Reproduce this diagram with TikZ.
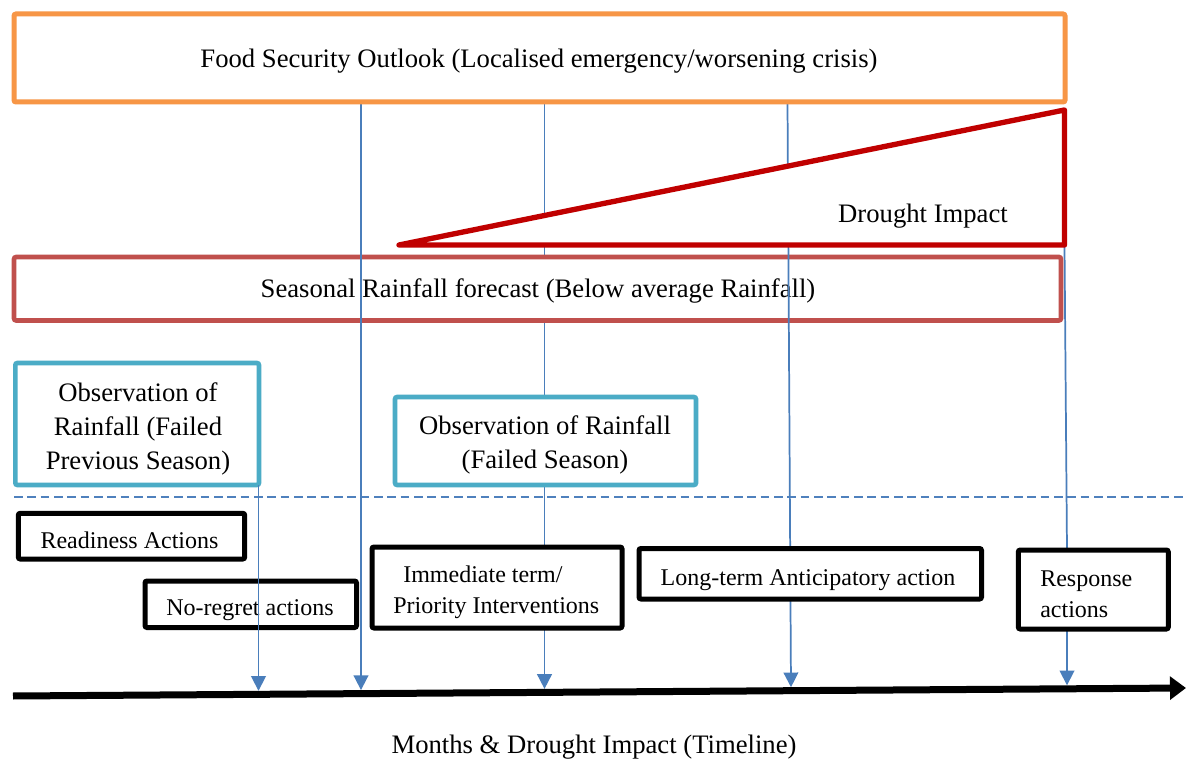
\documentclass[tikz,border=0pt]{standalone}
\usepackage{fontspec}
\setmainfont{Liberation Serif}
\usetikzlibrary{arrows.meta,fit,calc}
\definecolor{orangeO}{HTML}{F79646}
\definecolor{triRed}{HTML}{C00000}
\definecolor{seasRed}{HTML}{C0504D}
\definecolor{obsBlue}{HTML}{4BACC6}
\definecolor{lineBlue}{HTML}{4A7EBB}
\definecolor{dashBlue}{HTML}{4F81BD}
\pgfdeclarelayer{bg}\pgfdeclarelayer{l1}\pgfdeclarelayer{l2}\pgfdeclarelayer{l3}\pgfdeclarelayer{l4}\pgfdeclarelayer{front}
\pgfsetlayers{bg,l1,l2,l3,l4,main,front}
\newcommand\txtL{\fontsize{20}{25.5}\selectfont}
\newcommand\txtS{\fontsize{18}{23.25}\selectfont}
\tikzset{
  frame/.style={draw, fill=white, inner sep=0pt, outer sep=0pt, rounded corners=1.5pt},
  orangebox/.style={frame, draw=orangeO, line width=3.75pt},
  seasbox/.style={frame, draw=seasRed, line width=3.4pt},
  obsbox/.style={frame, draw=obsBlue, line width=3.4pt},
  actbox/.style={frame, draw=black, line width=3.75pt},
  tri/.style={draw=triRed, fill=white, line width=4pt, line join=round},
  lbl/.style={inner sep=0pt, anchor=base, font=\txtL},
  slbl/.style={inner sep=0pt, anchor=base, font=\txtS},
  sleft/.style={inner sep=0pt, anchor=base west, font=\txtS},
  conn/.style={draw=lineBlue, line width=1.3pt},
  conna/.style={conn, -{Triangle[length=11pt,width=11pt]}},
  timeline/.style={draw=black, line width=5.25pt, -{Triangle[length=12pt,width=17pt]}},
  sep/.style={draw=dashBlue, line width=1.4pt, dash pattern=on 6.5pt off 3.5pt},
}
\begin{document}
\begin{tikzpicture}[x=0.75pt, y=-0.75pt]
\useasboundingbox (0,0) rectangle (1186,759);
\begin{pgfonlayer}{bg}
  \fill[white] (0,0) rectangle (1186,759);
\end{pgfonlayer}

% boxes
\node[orangebox, fit={(14,14) (1065,102)}] (top) {};
\node[lbl] (toptxt) at (539,68) {Food Security Outlook (Localised emergency/worsening crisis)};

\coordinate (triL) at (399,245);
\coordinate (triT) at (1064.5,110);
\coordinate (triR) at (1064.5,245);
\begin{pgfonlayer}{l4}
  \draw[tri] (triL) -- (triT) -- (triR) -- cycle;
  \node[lbl] (drought) at (923,223) {Drought Impact};
\end{pgfonlayer}

\begin{pgfonlayer}{l2}
  \node[seasbox, fit={(14,257) (1061,320.5)}] (seas) {};
  \node[lbl] (seastxt) at (538,298) {Seasonal Rainfall forecast (Below average Rainfall)};
\end{pgfonlayer}

\node[obsbox, fit={(15.3,363) (259,485)}] (obs1) {};
\node[lbl] (obs1txt) at (138,402) {\begin{tabular}[t]{@{}c@{}}Observation of\\Rainfall (Failed\\Previous Season)\end{tabular}};

\node[obsbox, fit={(395,397) (696,485)}] (obs2) {};
\node[lbl] (obs2txt) at (545,435) {\begin{tabular}[t]{@{}c@{}}Observation of Rainfall\\(Failed Season)\end{tabular}};

\node[actbox, fit={(18.3,513.3) (244.7,559)}] (ready) {};
\node[slbl] (readytxt) at (129.5,548) {Readiness Actions};

\node[actbox, fit={(145,581) (356.5,627.5)}] (noreg) {};
\node[slbl] (noregtxt) at (250,615) {No-regret actions};

\node[actbox, fit={(372,547) (622,628)}] (imm) {};
\node[sleft] (immtxt) at (393,582) {\begin{tabular}[t]{@{}l@{}}\hspace{7.5pt}Immediate term/\\Priority Interventions\end{tabular}};

\node[actbox, fit={(639,548.5) (981.5,599)}] (long) {};
\node[slbl] (longtxt) at (808,585) {Long-term Anticipatory action};

\node[actbox, fit={(1018.3,550) (1168.3,629)}] (resp) {};
\node[sleft] (resptxt) at (1040,586) {\begin{tabular}[t]{@{}l@{}}Response\\actions\end{tabular}};

% timeline
\coordinate (tlA) at (13,696);
\coordinate (tlB) at (1186,688);
\draw[timeline] (tlA) -- (tlB);
\node[lbl] (months) at (594,753) {Months \& Drought Impact (Timeline)};

% points on the timeline
\coordinate (t1) at (258.5,690.8);
\coordinate (t2) at (361,690.1);
\coordinate (t3) at (544.5,688.9);
\coordinate (t4) at (791,687.2);
\coordinate (t5) at (1067,685.3);

% separator
\coordinate (dA) at (14,497.3);
\coordinate (dB) at (1186,497.3);
\begin{pgfonlayer}{l1}
  \draw[sep] (dA) -- (dB);
  \draw[conn] (top.south -| t3) -- (obs2.north -| t3);
  \draw[conn] (obs2.south -| t3) -- (imm.north -| t3);
  \draw[conna] (imm.south -| t3) -- (t3);
  \draw[conn] (triR) -- (resp.north -| t5);
  \draw[conna] (resp.south -| t5) -- (t5);
\end{pgfonlayer}
\begin{pgfonlayer}{l3}
  \draw[conna] (top.south -| t2) -- (t2);
  \draw[conna] ($(top.south west)+(773.5,0)$) -- (t4);
\end{pgfonlayer}
\begin{pgfonlayer}{front}
  \draw[conna] (obs1.south -| t1) -- (t1);
\end{pgfonlayer}
\end{tikzpicture}
\end{document}
